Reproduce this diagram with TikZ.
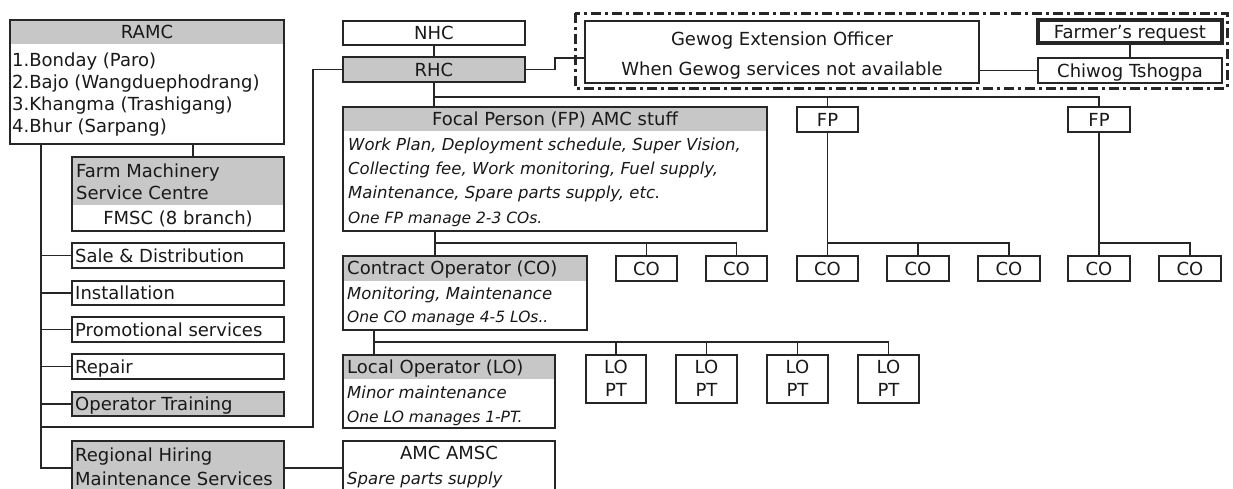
\documentclass[tikz,border=0pt]{standalone}
\usepackage{fontspec}
\setmainfont{DejaVu Sans}
\usetikzlibrary{fit}
\begin{document}
\begin{tikzpicture}[x=1pt,y=-1pt,
  box/.style={draw=black!85,line width=1.6pt,inner sep=0pt,outer sep=0pt,rectangle},
  heavybox/.style={box,line width=3.2pt},
  hdr/.style={fill=black!22},
  ln/.style={draw=black!85,line width=1.6pt},
  txt/.style={inner sep=0pt,text height=13pt,text depth=0pt,font=\fontsize{18}{18}\selectfont,text=black!90},
  itx/.style={inner sep=0pt,text height=12pt,text depth=0pt,font=\fontsize{16.5}{16.5}\selectfont\itshape,text=black!90},
  stx/.style={itx,text height=11pt,font=\fontsize{15.5}{15.5}\selectfont\itshape}
]
\useasboundingbox (0,0) rectangle (1233,488);
\fill[white] (0,0) rectangle (1233,488);

% ---------- header fills ----------
\fill[hdr] (10,20) rectangle (284,44);
\fill[hdr] (72,157) rectangle (284,205);
\fill[hdr] (72,392) rectangle (284,416);
\fill[hdr] (72,441) rectangle (284,495);
\fill[hdr] (343,57) rectangle (525,82);
\fill[hdr] (343,107) rectangle (767,131);
\fill[hdr] (343,256) rectangle (587,281);
\fill[hdr] (343,355) rectangle (555,379);

% ---------- dash-dot group ----------
\draw[line width=3pt,black!85,dash pattern=on 10pt off 4pt on 3pt off 4pt] (575,13) rectangle (1227,88);

% ---------- left column ----------
\node[box,fit={(10,20)(284,144)}] (ramc) {};
\node[txt] (ramct) at (147,32) {RAMC};
\node[txt,anchor=west] (r1) at (12,60) {1.Bonday (Paro)};
\node[txt,anchor=west] (r2) at (12,82) {2.Bajo (Wangduephodrang)};
\node[txt,anchor=west] (r3) at (12,104) {3.Khangma (Trashigang)};
\node[txt,anchor=west] (r4) at (12,126) {4.Bhur (Sarpang)};

\node[box,fit={(72,157)(284,231)}] (fmsc) {};
\node[txt,anchor=west] (f1) at (76,171) {Farm Machinery};
\node[txt,anchor=west] (f2) at (76,193) {Service Centre};
\node[txt] (f3) at (178,218) {FMSC (8 branch)};

\node[box,fit={(72,243)(284,268)}] (sale) {};
\node[txt,anchor=west] (salet) at (75,255.5) {Sale \& Distribution};
\node[box,fit={(72,281)(284,305)}] (inst) {};
\node[txt,anchor=west] (instt) at (75,293) {Installation};
\node[box,fit={(72,317)(284,342)}] (promo) {};
\node[txt,anchor=west] (promot) at (75,329.5) {Promotional services};
\node[box,fit={(72,354)(284,379)}] (rep) {};
\node[txt,anchor=west] (rept) at (75,366.5) {Repair};
\node[box,fit={(72,392)(284,416)}] (optr) {};
\node[txt,anchor=west] (optrt) at (75,404) {Operator Training};
\node[box,fit={(72,441)(284,495)}] (rh) {};
\node[txt,anchor=west] (rh1) at (75,455) {Regional Hiring};
\node[txt,anchor=west] (rh2) at (75,479) {Maintenance Services};

% ---------- middle column ----------
\node[box,fit={(343,21)(525,45)}] (nhc) {};
\node[txt] (nhct) at (nhc.center) {NHC};
\node[box,fit={(343,57)(525,82)}] (rhc) {};
\node[txt] (rhct) at (rhc.center) {RHC};

\node[box,fit={(343,107)(767,231)}] (fp) {};
\node[txt] (fpt) at (555,119) {Focal Person (FP) AMC stuff};
\node[itx,anchor=west] (fp1t) at (348,144) {Work Plan, Deployment schedule, Super Vision,};
\node[itx,anchor=west] (fp2t) at (348,168) {Collecting fee, Work monitoring, Fuel supply,};
\node[itx,anchor=west] (fp3t) at (348,192) {Maintenance, Spare parts supply, etc.};
\node[stx,anchor=west] (fp4t) at (348,218) {One FP manage 2-3 COs.};

\node[box,fit={(343,256)(587,330)}] (co) {};
\node[txt,anchor=west] (cot) at (347,268) {Contract Operator (CO)};
\node[itx,anchor=west] (co1t) at (347,293) {Monitoring, Maintenance};
\node[stx,anchor=west] (co2t) at (347,317) {One CO manage 4-5 LOs..};

\node[box,fit={(343,355)(555,428)}] (lo) {};
\node[txt,anchor=west] (lot) at (347,367) {Local Operator (LO)};
\node[itx,anchor=west] (lo1t) at (347,392) {Minor maintenance};
\node[stx,anchor=west] (lo2t) at (347,417) {One LO manages 1-PT.};

\node[box,fit={(343,441)(555,495)}] (amc) {};
\node[txt] (amct) at (449,453) {AMC AMSC};
\node[itx,anchor=west] (amc1t) at (347,478) {Spare parts supply};

% ---------- CO / FP small boxes ----------
\node[box,fit={(616,256)(677,281)}] (coa) {};
\node[txt] at (coa.center) (coat) {CO};
\node[box,fit={(706,256)(767,281)}] (cob) {};
\node[txt] at (cob.center) (cobt) {CO};

\node[box,fit={(797,107)(858,132)}] (fpa) {};
\node[txt] at (fpa.center) (fpat) {FP};
\node[box,fit={(1068,107)(1130,132)}] (fpb) {};
\node[txt] at (fpb.center) (fpbt) {FP};

\node[box,fit={(797,256)(858,281)}] (coc) {};
\node[txt] at (coc.center) (coct) {CO};
\node[box,fit={(887,256)(949,281)}] (cod) {};
\node[txt] at (cod.center) (codt) {CO};
\node[box,fit={(978,256)(1040,281)}] (coe) {};
\node[txt] at (coe.center) (coet) {CO};
\node[box,fit={(1068,256)(1130,281)}] (cof) {};
\node[txt] at (cof.center) (coft) {CO};
\node[box,fit={(1159,256)(1221,281)}] (cog) {};
\node[txt] at (cog.center) (cogt) {CO};

% ---------- LO / PT boxes ----------
\node[box,fit={(586,355)(646,403)}] (lpa) {};
\node[txt] (lpa1) at (616,367) {LO};
\node[txt] (lpa2) at (616,390) {PT};
\node[box,fit={(676,355)(737,403)}] (lpb) {};
\node[txt] (lpb1) at (706.5,367) {LO};
\node[txt] (lpb2) at (706.5,390) {PT};
\node[box,fit={(767,355)(828,403)}] (lpc) {};
\node[txt] (lpc1) at (797.5,367) {LO};
\node[txt] (lpc2) at (797.5,390) {PT};
\node[box,fit={(858,355)(919,403)}] (lpd) {};
\node[txt] (lpd1) at (888.5,367) {LO};
\node[txt] (lpd2) at (888.5,390) {PT};

% ---------- top right ----------
\node[box,fit={(585,21)(979,83)}] (gew) {};
\node[txt] (gew1) at (782,39) {Gewog Extension Officer};
\node[txt] (gew2) at (782,69) {When Gewog services not available};
\node[heavybox,fit={(1038,20)(1222,43)}] (farm) {};
\node[txt] (farmt) at (farm.center) {Farmer's request};
\node[box,fit={(1038,58)(1222,83)}] (chi) {};
\node[txt] (chit) at (chi.center) {Chiwog Tshogpa};

% ---------- connectors ----------
% RAMC spine
\draw[ln] (ramc.south -| 41,0) |- (rh.west);
\draw[ln] (ramc.south -| 193,0) -- (fmsc.north -| 193,0);
\draw[ln] (sale.west) -- (sale.west -| 41,0);
\draw[ln] (inst.west) -- (inst.west -| 41,0);
\draw[ln] (promo.west) -- (promo.west -| 41,0);
\draw[ln] (rep.west) -- (rep.west -| 41,0);
\draw[ln] (optr.west) -- (optr.west -| 41,0);
\coordinate (sp) at (41,427);
\draw[ln] (sp) -| (rhc.west -| 313,0) -- (rhc.west);
\draw[ln] (rh.east) -- (amc.west);

% NHC / RHC / FP
\draw[ln] (nhc.south) -- (rhc.north);
\draw[ln] (rhc.south) -- (rhc.south |- fp.north);
\draw[ln] (rhc.south |- 0,97) -| (fpb.north);
\draw[ln] (fpa.north) -- (fpa.north |- 0,97);

% RHC to Gewog
\draw[ln] (rhc.east) -- (555,69.5) -- (555,58) -- (gew.west |- 0,58);
\draw[ln] (gew.east |- chi.west) -- (chi.west);
\draw[ln] (farm.south) -- (chi.north);

% FP to COs
\draw[ln] (fp.south -| 435,0) -- (co.north -| 435,0);
\draw[ln] (435,243) -| (cob.north);
\draw[ln] (coa.north) -- (coa.north |- 0,243);
\draw[ln] (fpa.south) -- (coc.north);
\draw[ln] (coc.north |- 0,243) -| (coe.north);
\draw[ln] (cod.north) -- (cod.north |- 0,243);
\draw[ln] (fpb.south) -- (cof.north);
\draw[ln] (cof.north |- 0,243) -| (cog.north);

% CO to LOs
\draw[ln] (co.south -| 374,0) -- (lo.north -| 374,0);
\draw[ln] (374,342) -| (lpd.north);
\draw[ln] (lpa.north) -- (lpa.north |- 0,342);
\draw[ln] (lpb.north) -- (lpb.north |- 0,342);
\draw[ln] (lpc.north) -- (lpc.north |- 0,342);
\end{tikzpicture}
\end{document}
